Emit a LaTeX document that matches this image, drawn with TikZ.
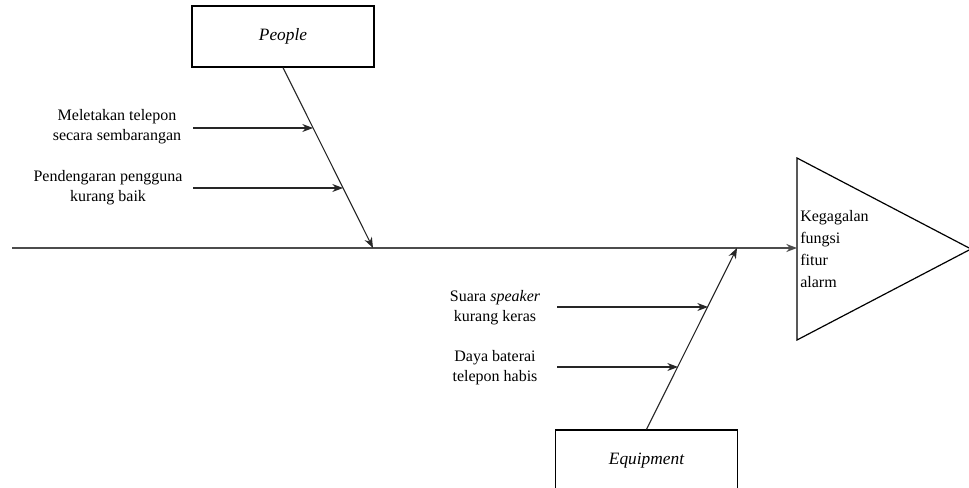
\documentclass[tikz,border=0pt]{standalone}
\usepackage{fontspec}
\setmainfont{Liberation Serif}
\usetikzlibrary{arrows.meta}

\def\BONECOLOR{black!85}
\def\SPINECOLOR{black!70}

\tikzset{
	catbox/.style={draw,line width=0.9pt,minimum width=136.5pt,minimum height=45.75pt,
		font=\fontsize{13}{15}\selectfont\itshape},
	causetext/.style={align=center,font=\fontsize{12}{15}\selectfont},
	bone/.style={draw=\BONECOLOR,line width=0.8pt,-{Stealth[length=8pt,width=6pt]}},
}

\begin{document}
\begin{tikzpicture}[x=0.75pt,y=-0.75pt]

	\useasboundingbox (0,0) rectangle (969,488);

	% head of the fish
	\coordinate (head) at (797,248);
	\draw[line width=0.9pt] (797,158) -- (971,249) -- (797,340) -- cycle;
	\node[anchor=west,align=left,inner sep=0pt,font=\fontsize{12}{16.3}\selectfont] (effect) at (800,249)
		{Kegagalan\\fungsi\\fitur\\alarm};

	% spine
	\coordinate (tail) at (12,248);
	\draw[line width=1.1pt,draw=\SPINECOLOR,-{Stealth[length=8pt,width=6pt]}] (tail) -- (head);

	% categories
	\node[catbox] (people) at (283,36.5) {People};
	\node[catbox] (equipment) at (646.5,460.5) {Equipment};
	\coordinate (peopletip) at (373,248);
	\coordinate (equipmenttip) at (737,248);
	\draw[bone] (people.south) -- (peopletip);
	\draw[bone] (equipment.north) -- (equipmenttip);

	% causes
	\node[causetext] (meletakan) at (117,127) {Meletakan telepon\\secara sembarangan};
	\node[causetext] (pendengaran) at (108,188) {Pendengaran pengguna\\kurang baik};
	\node[causetext] (suara) at (495,308) {Suara \textit{speaker}\\kurang keras};
	\node[causetext] (daya) at (495,368) {Daya baterai\\telepon habis};

	\coordinate (meletakanfrom) at (193,128);
	\coordinate (meletakanto) at (313,128);
	\coordinate (pendengaranfrom) at (193,188);
	\coordinate (pendengaranto) at (343,188);
	\coordinate (suarafrom) at (557,307);
	\coordinate (suarato) at (708,307);
	\coordinate (dayafrom) at (557,367);
	\coordinate (dayato) at (678,367);

	\draw[bone] (meletakanfrom) -- (meletakanto);
	\draw[bone] (pendengaranfrom) -- (pendengaranto);
	\draw[bone] (suarafrom) -- (suarato);
	\draw[bone] (dayafrom) -- (dayato);

\end{tikzpicture}
\end{document}
